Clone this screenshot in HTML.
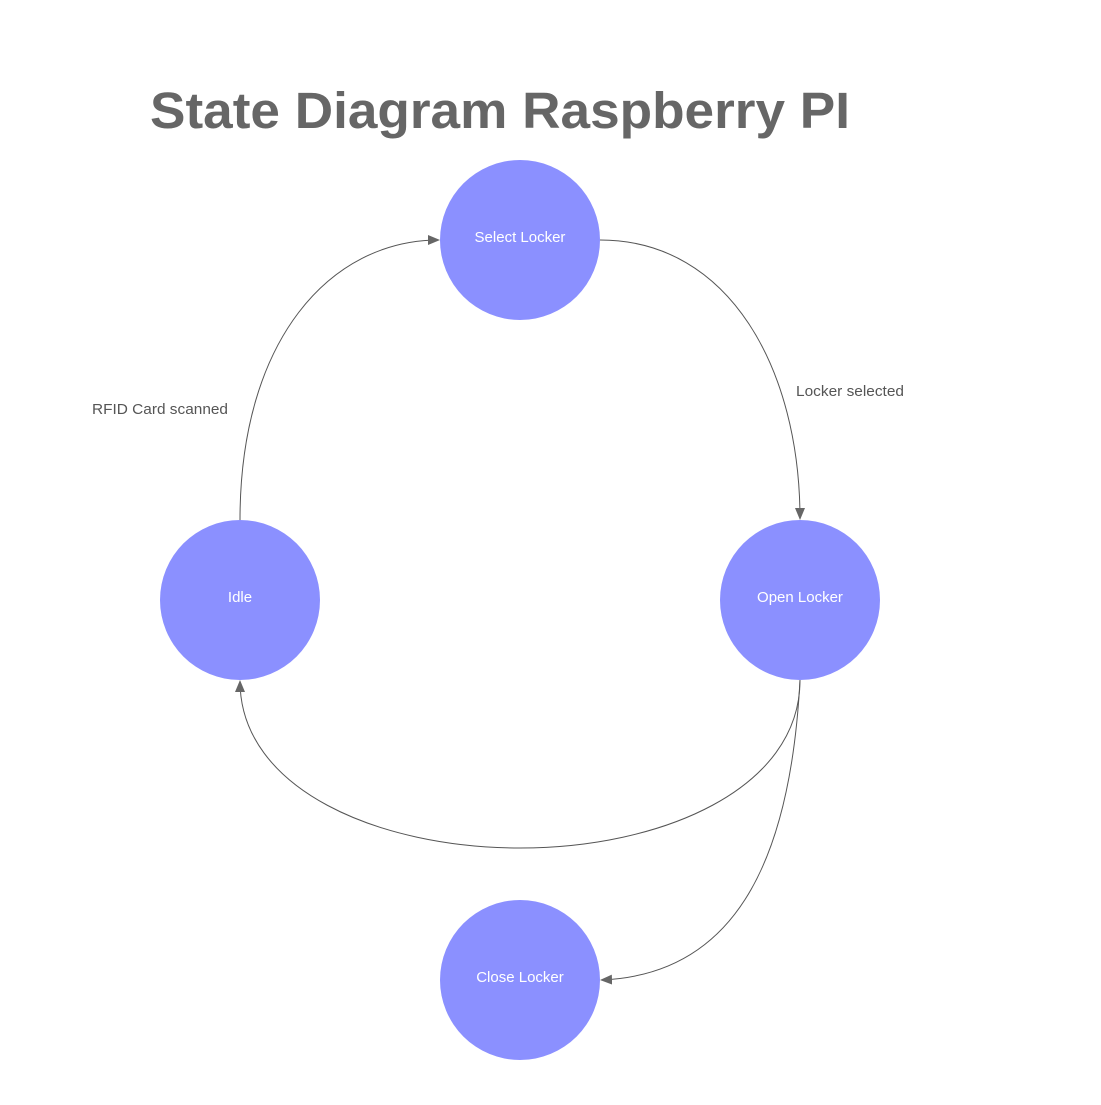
<!DOCTYPE html>
<html><head><meta charset="utf-8"><style>
html,body{margin:0;padding:0;background:#fff;}
body{width:1101px;height:1100px;overflow:hidden;}
</style></head><body>
<svg width="1101" height="1100" viewBox="0 0 1101 1100" xmlns="http://www.w3.org/2000/svg">
<defs>
<marker id="a" markerWidth="12" markerHeight="10" refX="11" refY="5" orient="auto" markerUnits="userSpaceOnUse">
<path d="M0,0 L12,5 L0,10 Z" fill="#666"/>
</marker>
</defs>
<text x="150" y="128" font-family="Liberation Sans, sans-serif" font-size="51" font-weight="bold" fill="#666" textLength="700" lengthAdjust="spacingAndGlyphs">State Diagram Raspberry PI</text>
<g fill="none" stroke="#555" stroke-width="1">
<path d="M240,520 C240,340 330,240 439,240" marker-end="url(#a)"/>
<path d="M600,240 C730,240 800,370 800,519" marker-end="url(#a)"/>
<path d="M800,680 C800,790 660,848 520,848 C380,848 240,790 240,681" marker-end="url(#a)"/>
<path d="M800,680 C790,870 730,975 601,980" marker-end="url(#a)"/>
</g>
<g fill="#8b90ff">
<circle cx="520" cy="240" r="80"/>
<circle cx="240" cy="600" r="80"/>
<circle cx="800" cy="600" r="80"/>
<circle cx="520" cy="980" r="80"/>
</g>
<g font-family="Liberation Sans, sans-serif" font-size="15" fill="#fff" text-anchor="middle">
<text x="520" y="242">Select Locker</text>
<text x="240" y="602">Idle</text>
<text x="800" y="602">Open Locker</text>
<text x="520" y="982">Close Locker</text>
</g>
<g font-family="Liberation Sans, sans-serif" font-size="15" fill="#555">
<text x="92" y="414" textLength="136" lengthAdjust="spacingAndGlyphs">RFID Card scanned</text>
<text x="796" y="396" textLength="108" lengthAdjust="spacingAndGlyphs">Locker selected</text>
</g>
</svg>
</body></html>
